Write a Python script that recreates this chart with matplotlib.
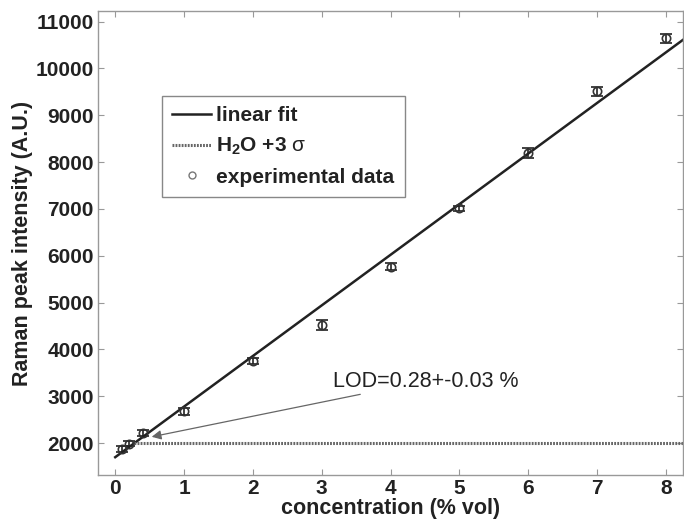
import numpy as np
import matplotlib
matplotlib.use('Agg')
import matplotlib.pyplot as plt

# data
conc = [0.1, 0.2, 0.4, 1, 2, 3, 4, 5, 6, 7, 8]
intensity = [1880, 1990, 2220, 2680, 3750, 4520, 5770, 7010, 8200, 9510, 10640]
err = [60, 60, 70, 70, 70, 100, 70, 60, 110, 90, 90]

fitSlope = 1080
fitIntercept = 1700
waterLimit = 2000
lod = 0.28

plt.rcParams['font.family'] = ['Liberation Sans', 'DejaVu Sans']
plt.rcParams['font.size'] = 12
plt.rcParams['mathtext.fontset'] = 'custom'
plt.rcParams['mathtext.rm'] = 'Liberation Sans'
plt.rcParams['mathtext.bf'] = 'Liberation Sans:bold'
plt.rcParams['mathtext.it'] = 'Liberation Sans:italic'

fig = plt.figure(figsize=(6.84, 5.23), dpi=100)
ax = fig.add_axes([0.1433, 0.0918, 0.8553, 0.8872])

xFit = np.array([0, 8.25])
ax.plot(xFit, fitIntercept + fitSlope * xFit, color='#222222', lw=1.8, label='linear fit')
ax.plot([lod, 8.25], [waterLimit, waterLimit], color='#666666', lw=2.2,
        linestyle=(0, (0.6, 0.4)), label=r'H$_\mathbf{2}$O +3 $\mathrm{\sigma}$')
ax.errorbar(conc, intensity, yerr=err, fmt='o', mfc='none', mec='#333333', ms=6,
            mew=1.2, ecolor='#222222', elinewidth=1.2, capsize=4, capthick=1.2)
ax.plot([], [], 'o', mfc='none', mec='#777777', ms=5, mew=1, label='experimental data')

ax.annotate('LOD=0.28+-0.03 %', xy=(0.53, 2135), xytext=(3.16, 3325),
            fontsize=15.5, va='center', ha='left', color='#222222',
            arrowprops=dict(arrowstyle='-|>', color='#666666', lw=0.9,
                            mutation_scale=14, shrinkA=0, shrinkB=0))

ax.set_xlim(-0.25, 8.25)
ax.set_ylim(1320, 11225)
ax.set_xticks(range(0, 9))
ax.set_yticks(range(2000, 11001, 1000))
ax.tick_params(direction='in', length=4, color='#999999', top=True, right=True,
               labelsize=15, pad=3)
for lab in ax.get_xticklabels() + ax.get_yticklabels():
    lab.set_fontweight('bold')
    lab.set_color('#222222')
for s in ax.spines.values():
    s.set_color('#999999')
    s.set_linewidth(1.0)

ax.set_xlabel('concentration (% vol)', fontweight='bold', fontsize=15.5, labelpad=0, color='#222222')
ax.set_ylabel('Raman peak intensity (A.U.)', fontweight='bold', fontsize=15.5, labelpad=2, color='#222222')

handles, labels = ax.get_legend_handles_labels()
leg = ax.legend(handles, labels, loc='upper left', bbox_to_anchor=(162 / 684, 1 - 96 / 523),
                bbox_transform=fig.transFigure, fancybox=False, framealpha=1,
                borderaxespad=0, edgecolor='#888888', handlelength=1.85, handletextpad=0.25,
                borderpad=0.5, labelspacing=0.5, prop={'weight': 'bold', 'size': 15})
for t in leg.get_texts():
    t.set_color('#222222')
leg.get_frame().set_linewidth(1.0)

fig.savefig('out.png', dpi=100)
